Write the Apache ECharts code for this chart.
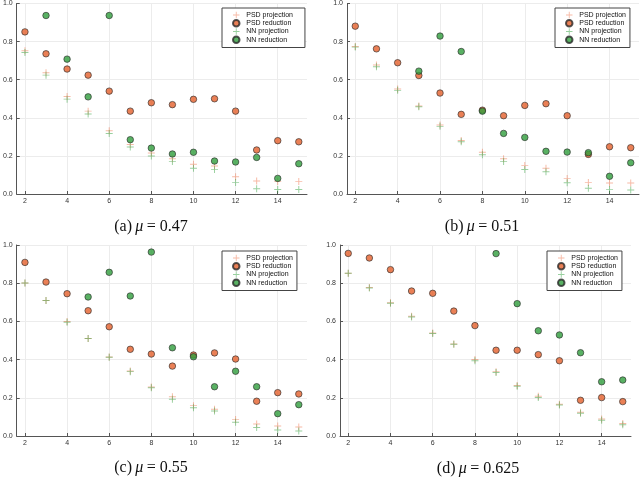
<!DOCTYPE html>
<html>
<head>
<meta charset="utf-8">
<script src="https://cdn.jsdelivr.net/npm/echarts@6/dist/echarts.min.js"></script>
<style>html,body{margin:0;padding:0;background:#fff}#c{width:640px;height:478px}</style>
</head>
<body>
<div id="c"></div>
<script>
const xs = [2,3,4,5,6,7,8,9,10,11,12,13,14,15];
const xTicks = [2,4,6,8,10,12,14];
const seriesNames = ['PSD projection','PSD reduction','NN projection','NN reduction'];
const captions = ['(a)','(b)','(c)','(d)'];
const muValues = ['0.47','0.51','0.55','0.625'];

// panel (a) mu = 0.47
const a_psdProj = [0.752,0.636,0.512,0.435,0.332,0.260,0.215,0.185,0.156,0.147,0.091,0.068,0.065,0.065];
const a_psdRed  = [0.851,0.736,0.656,0.624,0.540,0.435,0.479,0.469,0.497,0.500,0.435,0.231,0.280,0.274];
const a_nnProj  = [0.743,0.624,0.498,0.420,0.318,0.247,0.199,0.170,0.135,0.128,0.061,0.028,0.024,0.024];
const a_nnRed   = [null,0.937,0.708,0.510,0.937,0.285,0.241,0.210,0.219,0.173,0.168,0.192,0.082,0.159];
// panel (b) mu = 0.51
const b_psdProj = [0.774,0.677,0.551,0.462,0.362,0.281,0.219,0.185,0.149,0.135,0.082,0.061,0.058,0.058];
const b_psdRed  = [0.881,0.762,0.689,0.622,0.530,0.418,0.440,0.411,0.465,0.474,0.411,0.208,0.248,0.243];
const b_nnProj  = [0.771,0.668,0.544,0.458,0.355,0.274,0.206,0.170,0.129,0.117,0.059,0.030,0.023,0.021];
const b_nnRed   = [null,null,null,0.645,0.829,0.748,0.435,0.318,0.297,0.224,0.220,0.217,0.093,0.164];
// panel (c) mu = 0.55
const c_psdProj = [0.801,0.710,0.600,0.511,0.414,0.340,0.257,0.206,0.159,0.140,0.087,0.063,0.052,0.047];
const c_psdRed  = [0.909,0.806,0.745,0.656,0.572,0.454,0.429,0.366,0.424,0.435,0.403,0.182,0.227,0.220];
const c_nnProj  = [0.801,0.709,0.595,0.510,0.412,0.337,0.253,0.192,0.148,0.131,0.072,0.045,0.031,0.026];
const c_nnRed   = [null,null,null,0.728,0.857,0.733,0.963,0.462,0.415,0.258,0.339,0.258,0.117,0.164];
// panel (d) mu = 0.625
const d_psdProj = [0.852,0.778,0.698,0.627,0.539,0.482,0.400,0.337,0.264,0.208,0.166,0.124,0.089,0.065];
const d_psdRed  = [0.956,0.932,0.871,0.759,0.747,0.654,0.578,0.449,0.449,0.426,0.394,0.187,0.201,0.180];
const d_nnProj  = [0.852,0.775,0.695,0.623,0.537,0.480,0.394,0.333,0.260,0.202,0.162,0.119,0.082,0.059];
const d_nnRed   = [null,null,null,null,null,null,null,0.955,0.693,0.551,0.529,0.436,0.284,0.293];

const panels = [
  [a_psdProj,a_psdRed,a_nnProj,a_nnRed],
  [b_psdProj,b_psdRed,b_nnProj,b_nnRed],
  [c_psdProj,c_psdRed,c_nnProj,c_nnRed],
  [d_psdProj,d_psdRed,d_nnProj,d_nnRed]
];

const gridPos = [
  {left:14, top:3, width:293, height:191},
  {left:347, top:3, width:292, height:191},
  {left:14, top:245, width:293, height:191},
  {left:340, top:245, width:291, height:191}
];
const legendPos = [
  {left:222, top:8, padR:12},
  {left:555, top:8, padR:4},
  {left:222, top:251, padR:4},
  {left:547, top:251, padR:4}
];
const captionPos = [[151,227],[482,227],[151,468],[478,469]];

const PLUS = 'path://M4.3,0H5.7V4.3H10V5.7H5.7V10H4.3V5.7H0V4.3H4.3Z';
const styles = [
  {symbol:PLUS, size:7, itemStyle:{color:'rgba(238,110,70,0.6)'}},
  {symbol:'circle', size:6.5, itemStyle:{color:'#e5602c', borderColor:'#2a2a2a', borderWidth:0.8}},
  {symbol:PLUS, size:7, itemStyle:{color:'rgba(60,165,70,0.65)'}},
  {symbol:'circle', size:6.5, itemStyle:{color:'#2f9e3c', borderColor:'#2a2a2a', borderWidth:0.8}}
];

const grid=[], xAxis=[], yAxis=[], series=[], legend=[], graphic=[];
const lblStyle = {fontSize:7, color:'#333', fontFamily:'Liberation Sans, DejaVu Sans, sans-serif'};
panels.forEach((p, i) => {
  grid.push(Object.assign({containLabel:false}, gridPos[i]));
  xAxis.push({
    gridIndex:i, type:'value', min:1.61, max:15.39,
    axisLine:{lineStyle:{color:'#555', width:1}},
    axisTick:{inside:true, length:3, customValues:xTicks, lineStyle:{color:'#555'}},
    axisLabel:Object.assign({customValues:xTicks, margin:4, showMinLabel:true, showMaxLabel:true}, lblStyle),
    splitLine:{show:true, lineStyle:{color:'#ececec', width:1}}
  });
  yAxis.push({
    gridIndex:i, type:'value', min:0, max:1, interval:0.2,
    axisLine:{show:true, lineStyle:{color:'#555', width:1}},
    axisTick:{show:true, inside:true, length:3, lineStyle:{color:'#555'}},
    axisLabel:Object.assign({margin:4, formatter:v=>v.toFixed(1)}, lblStyle),
    splitLine:{show:true, lineStyle:{color:'#ececec', width:1}}
  });
  const names=[];
  p.forEach((vals, k) => {
    const name = seriesNames[k];
    names.push(name);
    series.push({
      type:'scatter', name:name, xAxisIndex:i, yAxisIndex:i,
      symbol:styles[k].symbol, symbolSize:styles[k].size,
      itemStyle:styles[k].itemStyle,
      data: xs.map((x, j) => vals[j] == null ? null : [x, vals[j]]).filter(d => d),
      emphasis:{disabled:true}, z:2+k
    });
  });
  legend.push({
    orient:'vertical', left:legendPos[i].left, top:legendPos[i].top,
    data: names.map(n => ({name:n})),
    itemWidth:10, itemHeight:6.5, itemGap:0.5,
    padding:[3.5, legendPos[i].padR, 3.5, 10],
    borderColor:'#444', borderWidth:1, backgroundColor:'#fff',
    textStyle:{fontSize:7, color:'#111', fontFamily:'Liberation Sans, DejaVu Sans, sans-serif', lineHeight:7},
    selectedMode:false
  });
  graphic.push({
    type:'text', x:captionPos[i][0], y:captionPos[i][1],
    style:{
      text:'{n|' + captions[i] + '} {i|μ} {n|= ' + muValues[i] + '}',
      rich:{
        n:{fontSize:16, fontFamily:'Liberation Serif, DejaVu Serif, serif', fill:'#111'},
        i:{fontSize:16, fontStyle:'italic', fontFamily:'Liberation Serif, DejaVu Serif, serif', fill:'#111'}
      },
      align:'center', verticalAlign:'middle', fill:'#111'
    }
  });
});

const chart = echarts.init(document.getElementById('c'), null, {renderer:'canvas'});
chart.setOption({
  animation:false,
  backgroundColor:'#fff',
  grid, xAxis, yAxis, series, legend, graphic
});
</script>
</body>
</html>
